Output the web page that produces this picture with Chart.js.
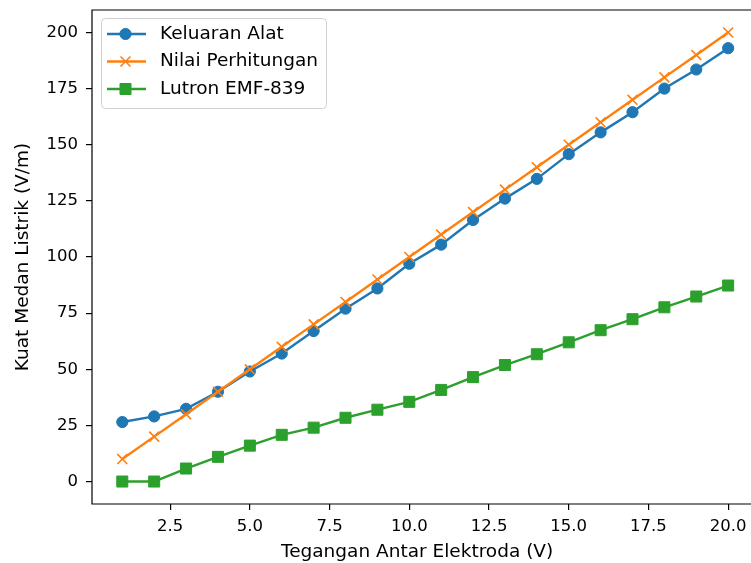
<!DOCTYPE html>
<html>
<head>
<meta charset="utf-8">
<script src="https://cdn.jsdelivr.net/npm/chart.js@4.4.0/dist/chart.umd.min.js"></script>
<style>
  html, body { margin: 0; padding: 0; background: #fff; overflow: hidden; }
  #chart { display: block; }
</style>
</head>
<body>
<canvas id="chart" width="751" height="563"></canvas>
<script>
// data
var voltages = [1, 2, 3, 4, 5, 6, 7, 8, 9, 10, 11, 12, 13, 14, 15, 16, 17, 18, 19, 20];
var keluaranAlat = [26.5, 29, 32.4, 40, 49, 57, 67, 77, 86, 97, 105.5, 116.5, 126, 134.8, 145.8, 155.5, 164.5, 175, 183.5, 193];
var nilaiPerhitungan = [10, 20, 30, 40, 50, 60, 70, 80, 90, 100, 110, 120, 130, 140, 150, 160, 170, 180, 190, 200];
var lutronEMF = [0, 0, 5.8, 11, 16, 20.8, 24, 28.4, 32, 35.5, 40.8, 46.5, 51.9, 56.7, 62, 67.4, 72.3, 77.6, 82.4, 87.3];
var xTicks = [2.5, 5, 7.5, 10, 12.5, 15, 17.5, 20];
var yTicks = [0, 25, 50, 75, 100, 125, 150, 175, 200];

var FONT = 'DejaVu Sans';
var TICK_SIZE = 16.5;
var LABEL_SIZE = 18.5;

function toPoints(ys) {
  return voltages.map(function(x, i) { return { x: x, y: ys[i] }; });
}

// top / left / bottom spines, running to the canvas edge (right spine is cropped off)
var framePlugin = {
  id: 'frame',
  afterDatasetsDraw: function(chart) {
    var a = chart.chartArea, ctx = chart.ctx;
    var w = chart.width;
    ctx.save();
    ctx.strokeStyle = '#000';
    ctx.lineWidth = 1.2;
    ctx.beginPath();
    ctx.moveTo(w, a.top);
    ctx.lineTo(a.left, a.top);
    ctx.lineTo(a.left, a.bottom);
    ctx.lineTo(w, a.bottom);
    ctx.stroke();
    ctx.restore();
  }
};

// matplotlib style legend box in the upper left corner
var legendPlugin = {
  id: 'mplLegend',
  afterDraw: function(chart) {
    var ctx = chart.ctx;
    var bx = 101.5, by = 18.5, bw = 225, bh = 90, r = 4;
    ctx.save();
    ctx.beginPath();
    ctx.moveTo(bx + r, by);
    ctx.arcTo(bx + bw, by, bx + bw, by + bh, r);
    ctx.arcTo(bx + bw, by + bh, bx, by + bh, r);
    ctx.arcTo(bx, by + bh, bx, by, r);
    ctx.arcTo(bx, by, bx + bw, by, r);
    ctx.closePath();
    ctx.fillStyle = 'rgba(255,255,255,0.8)';
    ctx.fill();
    ctx.strokeStyle = '#d0d0d0';
    ctx.lineWidth = 1;
    ctx.stroke();

    var rows = [34, 61.5, 89];
    var sets = chart.data.datasets;
    for (var i = 0; i < sets.length; i++) {
      var ds = sets[i], y = rows[i];
      ctx.strokeStyle = ds.borderColor;
      ctx.lineWidth = ds.borderWidth;
      ctx.beginPath();
      ctx.moveTo(107, y);
      ctx.lineTo(146, y);
      ctx.stroke();
      ctx.fillStyle = ds.pointBackgroundColor;
      ctx.strokeStyle = ds.pointBorderColor;
      ctx.lineWidth = ds.pointBorderWidth;
      Chart.helpers.drawPoint(ctx, {
        pointStyle: ds.pointStyle,
        radius: ds.pointRadius,
        rotation: 0,
        borderWidth: ds.pointBorderWidth
      }, 125.5, y);
      ctx.fillStyle = '#000';
      ctx.font = LABEL_SIZE + 'px "' + FONT + '"';
      ctx.textBaseline = 'middle';
      ctx.textAlign = 'left';
      ctx.fillText(ds.label, 160, y);
    }
    ctx.restore();
  }
};

var ctx = document.getElementById('chart').getContext('2d');
var myChart = new Chart(ctx, {
  type: 'line',
  data: {
    datasets: [
      {
        label: 'Keluaran Alat',
        data: toPoints(keluaranAlat),
        borderColor: '#1f77b4',
        backgroundColor: '#1f77b4',
        pointBackgroundColor: '#1f77b4',
        pointBorderColor: '#1f77b4',
        borderWidth: 2.4,
        pointStyle: 'circle',
        pointRadius: 5.6,
        pointBorderWidth: 1,
        order: 2
      },
      {
        label: 'Nilai Perhitungan',
        data: toPoints(nilaiPerhitungan),
        borderColor: '#ff7f0e',
        backgroundColor: '#ff7f0e',
        pointBackgroundColor: '#ff7f0e',
        pointBorderColor: '#ff7f0e',
        borderWidth: 2.4,
        pointStyle: 'crossRot',
        pointRadius: 7,
        pointBorderWidth: 1.6,
        order: 1
      },
      {
        label: 'Lutron EMF-839',
        data: toPoints(lutronEMF),
        borderColor: '#2ca02c',
        backgroundColor: '#2ca02c',
        pointBackgroundColor: '#2ca02c',
        pointBorderColor: '#2ca02c',
        borderWidth: 2.4,
        pointStyle: 'rect',
        pointRadius: 7.8,
        pointBorderWidth: 1,
        order: 0
      }
    ]
  },
  options: {
    responsive: false,
    animation: false,
    layout: { padding: { top: 10, left: 0, right: 0, bottom: 0 } },
    elements: { line: { tension: 0, fill: false } },
    plugins: {
      legend: { display: false },
      tooltip: { enabled: false }
    },
    scales: {
      x: {
        type: 'linear',
        // plot area ends ~742px; the reference's axis runs on past the crop
        min: 0.05,
        max: 20.44,
        afterBuildTicks: function(scale) {
          scale.ticks = xTicks.map(function(v) { return { value: v }; });
        },
        afterFit: function(scale) {
          scale.height = 59;
          scale.paddingLeft = 0;
          scale.paddingRight = 0;
        },
        border: { display: false },
        grid: { display: true, drawOnChartArea: false, drawTicks: true, tickLength: 6, color: '#000', lineWidth: 1.2 },
        ticks: {
          color: '#000',
          padding: 7,
          maxRotation: 0,
          font: { family: FONT, size: TICK_SIZE },
          callback: function(v) { return Number(v).toFixed(1); }
        },
        title: {
          display: true,
          text: 'Tegangan Antar Elektroda (V)',
          color: '#000',
          font: { family: FONT, size: LABEL_SIZE },
          padding: { top: 0, bottom: 0 }
        }
      },
      y: {
        type: 'linear',
        min: -10,
        max: 210,
        afterBuildTicks: function(scale) {
          scale.ticks = yTicks.map(function(v) { return { value: v }; });
        },
        afterFit: function(scale) {
          scale.width = 92;
          scale.paddingTop = 0;
          scale.paddingBottom = 0;
        },
        border: { display: false },
        grid: { display: true, drawOnChartArea: false, drawTicks: true, tickLength: 6, color: '#000', lineWidth: 1.2 },
        ticks: {
          color: '#000',
          padding: 8,
          font: { family: FONT, size: TICK_SIZE },
          callback: function(v) { return String(v); }
        },
        title: {
          display: true,
          text: 'Kuat Medan Listrik (V/m)',
          color: '#000',
          font: { family: FONT, size: LABEL_SIZE },
          padding: { top: 12.5, bottom: 0 }
        }
      }
    }
  },
  plugins: [framePlugin, legendPlugin]
});
</script>
</body>
</html>
